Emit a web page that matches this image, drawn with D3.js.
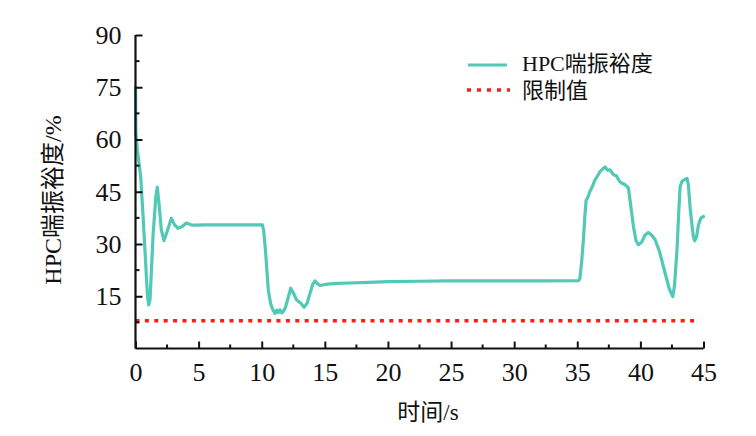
<!DOCTYPE html>
<html><head><meta charset="utf-8">
<script src="https://cdn.jsdelivr.net/npm/d3@7"></script>
<style>body{margin:0;background:#fff}svg{display:block}</style>
</head><body>
<svg id="c" width="756" height="436"></svg>
<script>
const timeS = [0,0.03,0.15,0.41,0.6,0.95,1.05,1.15,1.4,1.62,1.73,1.85,2.05,2.26,2.5,2.84,3.1,3.37,3.7,4.03,4.4,4.7,5.5,6.5,8,10.05,10.15,10.3,10.52,10.7,10.79,10.9,11.05,11.2,11.3,11.45,11.6,11.7,11.85,12.05,12.3,12.5,12.77,13.1,13.35,13.6,13.83,14.05,14.22,14.4,14.62,14.9,15.2,16,17,18.5,20,22.5,25,27.5,30,32.5,35.1,35.2,35.35,35.5,35.6,35.7,35.85,36.0,36.2,36.4,36.6,36.8,37.0,37.2,37.4,37.6,37.86,38.1,38.3,38.5,38.8,39.05,39.2,39.45,39.65,39.84,40.1,40.35,40.63,40.9,41.17,41.5,41.96,42.3,42.57,42.7,42.9,43.05,43.15,43.3,43.54,43.7,43.8,43.95,44.07,44.2,44.3,44.45,44.6,44.8,45];
const hpcMargin = [75,62,57,49.4,38,15,12.5,14,33,44,46.3,42,34,31,33.5,37.4,35.5,34.5,35,36,35.5,35.4,35.5,35.5,35.5,35.5,34,28,16.8,13,12,11,10.1,11,10.3,11.1,10.2,10.6,11.5,14,17.3,16,13.9,13,11.8,13,15.9,18.5,19.4,18.6,18.1,18.3,18.5,18.7,18.8,19.0,19.2,19.3,19.4,19.4,19.4,19.4,19.5,20,25,32,38,42.5,43.5,45.1,46.5,48.4,49.5,50.8,51.5,52.1,51.2,51.3,49.9,49.6,48.2,47.5,47,46.1,42,35,31,29.8,30.5,32.5,33.3,32.5,31.2,28,21.6,17,14.9,18,28.3,40,46.5,48,48.6,48.8,47,40,36,32,30.9,32,35.5,37.5,37.9];
const limitValue = 8;
const limitRange = [0, 44.6];
const xTicks = [0,5,10,15,20,25,30,35,40,45];
const yTicks = [15,30,45,60,75,90];
const legendLabels = ["HPC喘振裕度", "限制值"];
const xLabel = "时间/s";
const yLabel = "HPC喘振裕度/%";

const teal = "#52c8b6", red = "#ff1a1a";
const svg = d3.select("#c");
const x = d3.scaleLinear().domain([0,45]).range([135.5,703.5]);
const y = d3.scaleLinear().domain([0,90]).range([348.5,35]);
const font = "'Liberation Serif','Times New Roman','Noto Sans CJK SC',serif";

// limit line
svg.append("line")
  .attr("x1", x(limitRange[0])).attr("x2", x(limitRange[1]))
  .attr("y1", y(limitValue)).attr("y2", y(limitValue))
  .attr("stroke", red).attr("stroke-width", 3.5).attr("stroke-dasharray", "4,5.4");

// series
const line = d3.line().x((d,i)=>x(timeS[i])).y(d=>y(d));
svg.append("path").datum(hpcMargin).attr("d", line)
  .attr("fill","none").attr("stroke", teal).attr("stroke-width", 3.2)
  .attr("stroke-linejoin","round").attr("stroke-linecap","round");

// axes
const xAxis = d3.axisBottom(x).tickValues(xTicks).tickSize(-7).tickPadding(14).tickFormat(d3.format("d"));
const gx = svg.append("g").attr("transform", `translate(0,${y(0)})`).call(xAxis);
const yAxis = d3.axisLeft(y).tickValues(yTicks).tickSize(-7).tickPadding(14).tickFormat(d3.format("d"));
const gy = svg.append("g").attr("transform", `translate(${x(0)},0)`).call(yAxis);
[gx, gy].forEach(g => {
  g.select(".domain").attr("stroke","#111").attr("stroke-width",2.2);
  g.selectAll(".tick line").attr("stroke","#111").attr("stroke-width",2);
  g.selectAll(".tick text").attr("font-family", font).attr("font-size", 26).attr("fill","#111");
});
gy.select(".domain").attr("d", `M0,${y(0)}V${y(90)}`);
gx.select(".domain").attr("transform", `translate(${x(0)},0)`).attr("d", `M0,0H${x(45)-x(0)}`);
gx.selectAll(".tick text").attr("dy", "0.71em");
// minor ticks
const xMinor = xTicks.slice(0,-1).map(v=>v+2.5);
svg.append("g").selectAll("line").data(xMinor).join("line")
  .attr("x1", d=>x(d)).attr("x2", d=>x(d)).attr("y1", y(0)).attr("y2", y(0)-4)
  .attr("stroke","#111").attr("stroke-width",2);
const yMinor = [7.5,22.5,37.5,52.5,67.5,82.5];
svg.append("g").selectAll("line").data(yMinor).join("line")
  .attr("y1", d=>y(d)).attr("y2", d=>y(d)).attr("x1", x(0)).attr("x2", x(0)+4)
  .attr("stroke","#111").attr("stroke-width",2);

// axis labels
svg.append("text").attr("x", 428).attr("y", 420).attr("text-anchor","middle")
  .attr("font-family", font).attr("font-size", 23).attr("fill","#111").text(xLabel);
svg.append("text").attr("transform", "translate(61,200) rotate(-90)").attr("text-anchor","middle")
  .attr("font-family", font).attr("font-size", 24).attr("fill","#111").text(yLabel);

// legend
const lg = svg.append("g");
lg.append("line").attr("x1",468).attr("x2",507).attr("y1",65).attr("y2",65)
  .attr("stroke", teal).attr("stroke-width",3.2);
lg.append("line").attr("x1",467).attr("x2",510).attr("y1",90).attr("y2",90)
  .attr("stroke", red).attr("stroke-width",3.5).attr("stroke-dasharray","4,6");
lg.selectAll("text").data(legendLabels).join("text")
  .attr("x", 522).attr("y", (d,i)=> i===0 ? 71 : 98)
  .attr("font-family", font).attr("font-size", 22).attr("fill","#111").text(d=>d);
</script>
</body></html>
